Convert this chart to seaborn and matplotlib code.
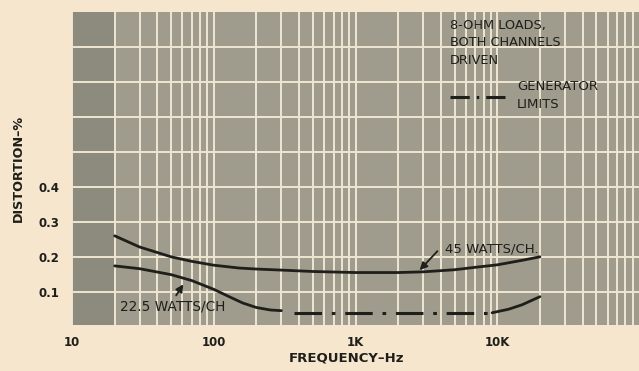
import matplotlib
matplotlib.use('Agg')
import matplotlib.pyplot as plt
import seaborn as sns
import pandas as pd

# data (frequency in Hz, distortion in %)
freq_45 = [20, 30, 50, 70, 100, 150, 200, 300, 500, 1000, 2000, 3000, 5000, 7000, 10000, 15000, 20000]
dist_45 = [0.26, 0.228, 0.2, 0.187, 0.176, 0.168, 0.165, 0.162, 0.158, 0.155, 0.155, 0.157, 0.163, 0.17, 0.177, 0.19, 0.2]

freq_22 = [20, 30, 50, 70, 100, 130, 160, 200, 250, 300]
dist_22 = [0.174, 0.166, 0.149, 0.132, 0.107, 0.085, 0.068, 0.055, 0.048, 0.046]

freq_22_hi = [9200, 12000, 15000, 20000]
dist_22_hi = [0.04, 0.05, 0.063, 0.086]

gen_freq = [370, 9200]
gen_dist = [0.04, 0.04]

x_ticks = [10, 100, 1000, 10000]
x_tick_labels = ['10', '100', '1K', '10K']
y_tick_labels = ['0.1', '0.2', '0.3', '0.4']

# colours
paper = '#f5e6cd'
plot_gray = '#9f9c8d'
band_gray = '#8d8a7e'
grid_col = '#efe6d2'
ink = '#1e1e1a'

dashdot = (0, (9.0, 3.2, 1.2, 3.2))

sns.set_theme(style='white')
plt.rcParams['font.family'] = ['DejaVu Sans']

fig = plt.figure(figsize=(6.39, 3.71), dpi=100, facecolor=paper)
ax = fig.add_axes([72 / 639, 46 / 371, 567 / 639, 313 / 371])
ax.set_facecolor(plot_gray)
ax.set_xscale('log')
ax.set_xlim(10, 1e5)
ax.set_ylim(0.005, 0.9)

# darker band below 20 Hz
ax.axvspan(10, 20, color=band_gray, lw=0, zorder=0)

# grid
ax.set_xticks(x_ticks)
ax.set_xticks([m * d for d in [10, 100, 1000, 10000] for m in range(2, 10)], minor=True)
ax.set_yticks([0.1 * i for i in range(1, 9)])
ax.grid(True, which='both', axis='x', color=grid_col, lw=1.4, zorder=1)
ax.grid(True, which='major', axis='y', color=grid_col, lw=1.4, zorder=1)
ax.set_axisbelow(True)

df45 = pd.DataFrame({'freq': freq_45, 'dist': dist_45})
df22 = pd.DataFrame({'freq': freq_22, 'dist': dist_22})
df22hi = pd.DataFrame({'freq': freq_22_hi, 'dist': dist_22_hi})
dfgen = pd.DataFrame({'freq': gen_freq, 'dist': gen_dist})

for d in (df45, df22, df22hi):
    sns.lineplot(data=d, x='freq', y='dist', ax=ax, color=ink, lw=2.0, sort=True, zorder=3)
sns.lineplot(data=dfgen, x='freq', y='dist', ax=ax, color=ink, lw=2.2, zorder=3,
             linestyle=dashdot)

# ticks
ax.set_xticks(x_ticks)
ax.set_xticklabels(x_tick_labels)
ax.set_yticks([0.1 * i for i in range(1, 9)])
ax.set_yticklabels(y_tick_labels + [''] * 4)
ax.tick_params(axis='both', which='both', length=0, colors=ink, labelsize=8.5)
ax.tick_params(axis='x', pad=8)
ax.tick_params(axis='y', pad=9)
for lab in ax.get_xticklabels() + ax.get_yticklabels():
    lab.set_fontweight('bold')

for s in ax.spines.values():
    s.set_visible(False)

ax.set_xlabel('FREQUENCY–Hz', fontsize=9.5, fontweight='bold', color=ink)
ax.xaxis.set_label_coords(0.485, -33 / 313)
ax.xaxis.label.set_va('center')
ax.set_ylabel('DISTORTION–%', fontsize=9.2, fontweight='bold', color=ink)
ax.yaxis.set_label_coords(-54 / 567, 0.5)
ax.yaxis.label.set_va('center')

# curve labels with arrows
ax.text(21.8, 0.057, '22.5 WATTS/CH', fontsize=9.8, color=ink, ha='left', va='center', zorder=4)
ax.annotate('', xy=(62.5, 0.128), xytext=(53, 0.083),
            arrowprops=dict(arrowstyle='-|>', color=ink, lw=1.3, mutation_scale=11), zorder=4)
ax.text(4300, 0.222, '45 WATTS/CH.', fontsize=9.5, color=ink, ha='left', va='center', zorder=4)
ax.annotate('', xy=(2750, 0.156), xytext=(3900, 0.222),
            arrowprops=dict(arrowstyle='-|>', color=ink, lw=1.3, mutation_scale=11), zorder=4)

# notes
ax.text(0.667, 0.978, '8-OHM LOADS,\nBOTH CHANNELS\nDRIVEN', transform=ax.transAxes,
        fontsize=9.3, color=ink, ha='left', va='top', linespacing=1.45, zorder=4)
ax.text(0.785, 0.782, 'GENERATOR\nLIMITS', transform=ax.transAxes,
        fontsize=9.5, color=ink, ha='left', va='top', linespacing=1.45, zorder=4)
ax.plot([0.667, 0.764], [0.728, 0.728], transform=ax.transAxes, color=ink, lw=2.2,
        linestyle=(0, (6.3, 2.3, 0.8, 2.3)), zorder=4)

fig.savefig('out.png', dpi=100, facecolor=paper)
